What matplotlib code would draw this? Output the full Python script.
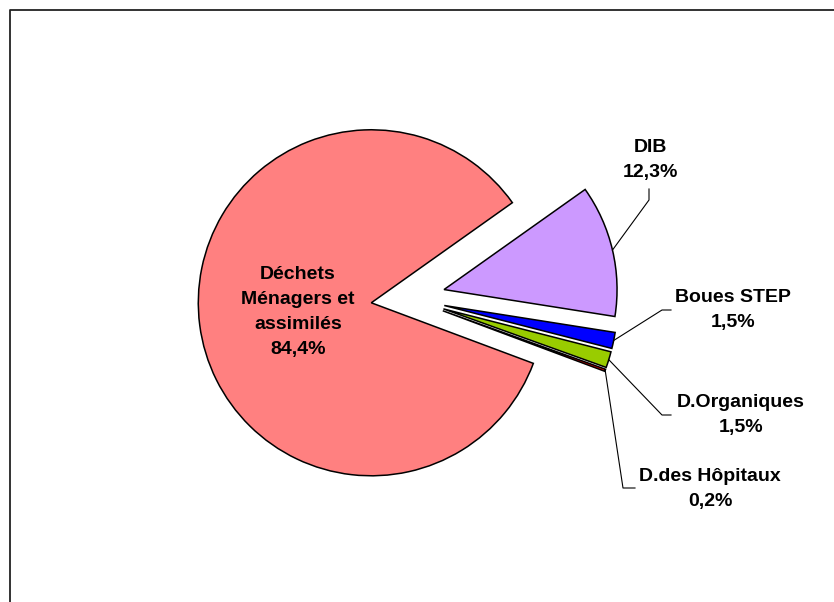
import numpy as np
import matplotlib
matplotlib.use("Agg")
import matplotlib.pyplot as plt
from matplotlib.lines import Line2D

# Data
labels = ["Déchets\nMénagers et\nassimilés", "DIB", "Boues STEP", "D.Organiques", "D.des Hôpitaux"]
values = [84.4, 12.3, 1.5, 1.5, 0.2]
pct_text = ["84,4%", "12,3%", "1,5%", "1,5%", "0,2%"]
colors = ["#FF8080", "#CC99FF", "#0000FF", "#99CC00", "#FF0000"]

# Layout (pixels of the 834x602 picture, y from top)
W, H = 834, 602
R = 173.0          # pie radius in px
CX, CY = 408, 298  # pie centre in px


def px(x, y):
    # pixel position -> data units (radius = 1)
    return (x - CX) / R, (CY - y) / R


fig = plt.figure(figsize=(W / 100, H / 100), dpi=100)
ax = fig.add_axes([0, 0, 1, 1])

wedges, _ = ax.pie(values, colors=colors, explode=[0.214] * 5, startangle=339.5,
                   counterclock=False, radius=1,
                   wedgeprops=dict(edgecolor="black", linewidth=1.1))

ax.set_xlim(px(0, 0)[0], px(W, 0)[0])
ax.set_ylim(px(0, H)[1], px(0, 0)[1])
ax.set_aspect("equal")
ax.axis("off")

font = dict(family=["Liberation Sans", "DejaVu Sans"], fontsize=14, fontweight="bold",
            ha="center", va="center", linespacing=1.63)

# label positions and leader elbows (px)
label_pos = [(298, 312), (650, 160), (733, 310), (741, 415), (710, 489)]
elbows = [None,
          [(649, 200), (649, 189)],
          [(662, 310), (671, 310)],
          [(662, 415), (671, 415)],
          [(623, 488), (635, 488)]]

for i, w in enumerate(wedges):
    ax.text(*px(*label_pos[i]), labels[i] + "\n" + pct_text[i], **font)
    if elbows[i] is None:
        continue
    tm = np.deg2rad((w.theta1 + w.theta2) / 2)
    sx = w.center[0] + w.r * np.cos(tm)
    sy = w.center[1] + w.r * np.sin(tm)
    xs = [sx] + [px(*p)[0] for p in elbows[i]]
    ys = [sy] + [px(*p)[1] for p in elbows[i]]
    ax.plot(xs, ys, color="black", linewidth=0.8)

# chart frame (only left and top edges are visible in the crop)
fig.add_artist(Line2D([10 / W, 10 / W, 1], [0, 1 - 10 / H, 1 - 10 / H],
                      transform=fig.transFigure, color="#222222", linewidth=1.3))

fig.savefig("out.png", dpi=100)
